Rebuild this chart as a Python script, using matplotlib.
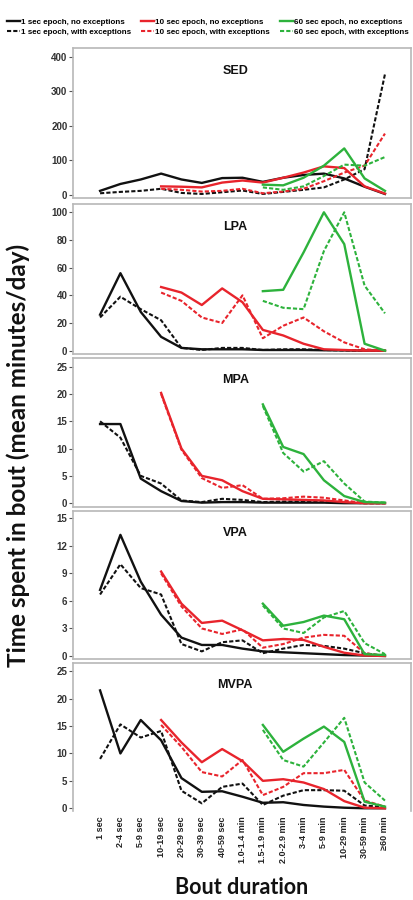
import matplotlib
matplotlib.use('Agg')
import matplotlib.pyplot as plt

plt.rcParams['font.family'] = ['Liberation Sans', 'DejaVu Sans']

categories = ['1 sec', '2-4 sec', '5-9 sec', '10-19 sec', '20-29 sec', '30-39 sec',
              '40-59 sec', '1.0-1.4 min', '1.5-1.9 min', '2.0-2.9 min', '3-4 min',
              '5-9 min', '10-29 min', '30-59 min', '≥60 min']

# 1 sec epoch covers all 15 bout categories; 10 sec epoch starts at "10-19 sec";
# 60 sec epoch starts at "1.5-1.9 min"
start_1s, start_10s, start_60s = 0, 3, 8

# SED
sed_1s_no = [12, 32, 45, 62, 45, 35, 49, 50, 38, 50, 58, 62, 48, 24, 3]
sed_1s_ex = [5, 9, 12, 18, 6, 3, 8, 13, 3, 9, 15, 22, 45, 75, 350]
sed_10s_no = [25, 24, 22, 36, 42, 36, 50, 65, 83, 78, 25, 4]
sed_10s_ex = [18, 15, 10, 12, 18, 5, 10, 18, 40, 65, 85, 178]
sed_60s_no = [30, 28, 50, 85, 135, 48, 12]
sed_60s_ex = [22, 15, 25, 55, 88, 85, 110]

# LPA
lpa_1s_no = [26, 56, 28, 10, 2, 1, 1, 1, 0.5, 0.5, 0.5, 0.3, 0.2, 0, 0]
lpa_1s_ex = [24, 39, 30, 22, 2, 0.5, 2, 2, 0.5, 1, 1, 0.5, 0.2, 0, 0]
lpa_10s_no = [46, 42, 33, 45, 35, 15, 11, 5, 1, 0.5, 0, 0]
lpa_10s_ex = [42, 36, 24, 20, 40, 9, 18, 24, 14, 6, 1, 0]
lpa_60s_no = [43, 44, 71, 100, 77, 5, 0]
lpa_60s_ex = [36, 31, 30, 72, 100, 47, 27]

# MPA
mpa_1s_no = [14.5, 14.5, 4.5, 2.2, 0.4, 0.1, 0.2, 0.2, 0.1, 0.1, 0.1, 0.1, 0, 0, 0]
mpa_1s_ex = [15, 12, 5, 3.6, 0.5, 0.2, 0.8, 0.6, 0.2, 0.3, 0.3, 0.2, 0.1, 0, 0]
mpa_10s_no = [20.2, 10, 5, 4.2, 2.2, 0.8, 0.7, 0.6, 0.5, 0.2, 0, 0]
mpa_10s_ex = [20, 9.8, 4.6, 2.8, 3.3, 0.8, 0.9, 1.2, 1.0, 0.5, 0, 0]
mpa_60s_no = [18.1, 10.3, 9.0, 4.2, 1.3, 0.2, 0.1]
mpa_60s_ex = [17.8, 9.2, 5.8, 7.7, 3.6, 0.3, 0.1]

# VPA
vpa_1s_no = [7.2, 13.2, 8.1, 4.5, 2.0, 1.2, 1.2, 0.8, 0.5, 0.4, 0.3, 0.2, 0.1, 0.05, 0]
vpa_1s_ex = [6.7, 10.0, 7.4, 6.7, 1.3, 0.5, 1.5, 1.7, 0.3, 0.8, 1.2, 1.1, 0.8, 0.3, 0]
vpa_10s_no = [9.2, 5.7, 3.6, 3.85, 2.8, 1.7, 1.85, 1.75, 1.0, 0.35, 0.05, 0]
vpa_10s_ex = [9.0, 5.4, 3.0, 2.4, 2.9, 0.9, 1.3, 2.0, 2.3, 2.2, 0.3, 0]
vpa_60s_no = [5.7, 3.3, 3.7, 4.4, 4.0, 0.2, 0.1]
vpa_60s_ex = [5.5, 3.0, 2.5, 4.2, 4.9, 1.4, 0.2]

# MVPA
mvpa_1s_no = [21.5, 10, 16.1, 12.4, 5.5, 3.0, 3.1, 2.1, 1.0, 1.1, 0.6, 0.3, 0.1, 0, 0]
mvpa_1s_ex = [9.0, 15.3, 12.9, 14.1, 3.2, 0.9, 3.9, 4.5, 0.6, 2.3, 3.3, 3.3, 3.2, 0.5, 0.2]
mvpa_10s_no = [16.1, 12.0, 8.4, 10.8, 8.6, 5.0, 5.3, 4.7, 3.5, 1.3, 0.1, 0]
mvpa_10s_ex = [15.2, 11.2, 6.6, 5.8, 8.8, 2.4, 3.9, 6.4, 6.4, 7.0, 1.4, 0.3]
mvpa_60s_no = [15.2, 10.3, 12.7, 14.9, 12.1, 1.2, 0.3]
mvpa_60s_ex = [14.3, 8.8, 7.6, 12.0, 16.5, 4.7, 1.4]

panel_names = ['SED', 'LPA', 'MPA', 'VPA', 'MVPA']
panel_data = [
    (sed_1s_no, sed_1s_ex, sed_10s_no, sed_10s_ex, sed_60s_no, sed_60s_ex),
    (lpa_1s_no, lpa_1s_ex, lpa_10s_no, lpa_10s_ex, lpa_60s_no, lpa_60s_ex),
    (mpa_1s_no, mpa_1s_ex, mpa_10s_no, mpa_10s_ex, mpa_60s_no, mpa_60s_ex),
    (vpa_1s_no, vpa_1s_ex, vpa_10s_no, vpa_10s_ex, vpa_60s_no, vpa_60s_ex),
    (mvpa_1s_no, mvpa_1s_ex, mvpa_10s_no, mvpa_10s_ex, mvpa_60s_no, mvpa_60s_ex),
]
panel_yticks = [
    [0, 100, 200, 300, 400],
    [0, 20, 40, 60, 80, 100],
    [0, 5, 10, 15, 20, 25],
    [0, 3, 6, 9, 12, 15],
    [0, 5, 10, 15, 20, 25],
]
panel_ylims = [(-8.7, 426), (-2.4, 106), (-0.7, 26.6), (-0.33, 15.8), (-0.5, 26.5)]
# panel frames in pixels (top, bottom)
panel_px = [(48, 198), (204, 354), (358, 507), (511, 659), (663, 811)]

series_labels = ['1 sec epoch, no exceptions', '1 sec epoch, with exceptions',
                 '10 sec epoch, no exceptions', '10 sec epoch, with exceptions',
                 '60 sec epoch, no exceptions', '60 sec epoch, with exceptions']
series_colors = ['#111111', '#111111', '#e8242c', '#e8242c', '#2db23c', '#2db23c']
series_starts = [start_1s, start_1s, start_10s, start_10s, start_60s, start_60s]
series_dashed = [False, True, False, True, False, True]

W, H = 414, 900
fig = plt.figure(figsize=(W / 100, H / 100), dpi=100)
left_px, right_px = 73, 411
frame_col = '#b8b8b8'
x = list(range(len(categories)))

handles = []
for p, name in enumerate(panel_names):
    top, bot = panel_px[p]
    ax = fig.add_axes([left_px / W, 1 - bot / H, (right_px - left_px) / W, (bot - top) / H])
    for s in range(6):
        vals = panel_data[p][s]
        xs = x[series_starts[s]:series_starts[s] + len(vals)]
        if series_dashed[s]:
            ln, = ax.plot(xs, vals, color=series_colors[s], lw=1.5,
                          linestyle=(0, (2, 1)), label=series_labels[s])
        else:
            ln, = ax.plot(xs, vals, color=series_colors[s], lw=1.7,
                          linestyle='-', label=series_labels[s])
        if p == 0:
            handles.append(ln)
    ax.set_xlim(-1.33, 15.28)
    ax.set_ylim(*panel_ylims[p])
    ax.set_yticks(panel_yticks[p])
    ax.set_yticklabels([str(t) for t in panel_yticks[p]], fontsize=7,
                       fontweight='bold', color='#333333')
    ax.tick_params(axis='y', length=3, width=0.8, color='#555555', pad=1)
    for sp in ax.spines.values():
        sp.set_color(frame_col)
        sp.set_linewidth(1.2)
    ax.text(0.48, 0.85, name, transform=ax.transAxes, ha='center', va='center',
            fontsize=9, fontweight='bold', color='#111111')
    ax.set_xticks(x)
    if p == len(panel_names) - 1:
        ax.set_xticklabels(categories, rotation=90, fontsize=6.5, fontweight='bold',
                           color='#222222')
        ax.tick_params(axis='x', length=0, pad=4)
        ax.spines['bottom'].set_visible(False)
    else:
        ax.set_xticklabels([])
        ax.tick_params(axis='x', length=0)

fig.legend(handles=handles, labels=series_labels, ncol=3, loc='upper left',
           bbox_to_anchor=(0.017, 0.980), frameon=False,
           prop={'family': ['Liberation Sans', 'DejaVu Sans'], 'weight': 'bold', 'size': 5.8},
           handlelength=1.6, handletextpad=0.15, columnspacing=1.25, labelspacing=0.3,
           borderaxespad=0, borderpad=0)

fig.text(18 / W, 1 - 455 / H, 'Time spent in bout (mean minutes/day)', rotation=90,
         ha='center', va='center', fontsize=17.5, fontweight='bold',
         family=['Lato', 'DejaVu Sans'], color='#111111')
fig.text(242 / W, 1 - 888 / H, 'Bout duration', ha='center', va='center',
         fontsize=15.5, fontweight='bold', family=['Lato', 'DejaVu Sans'], color='#111111')

fig.savefig('out.png', dpi=100)
